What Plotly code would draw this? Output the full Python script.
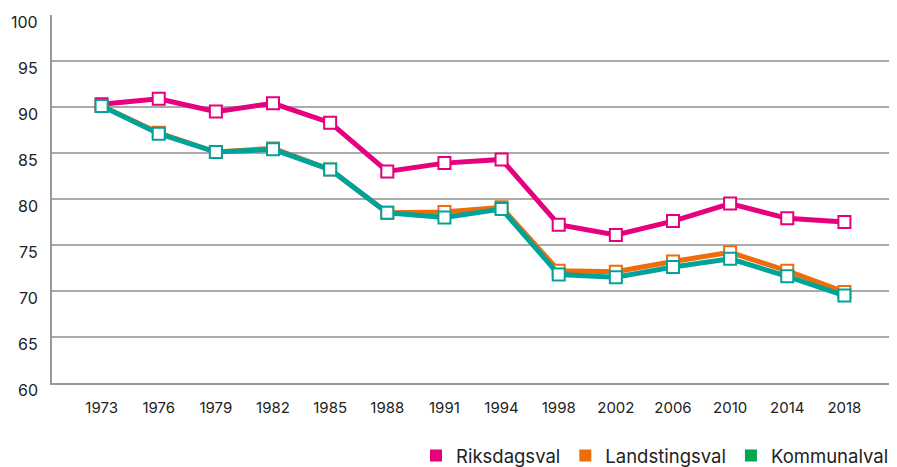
import plotly.graph_objects as go

years = ["1973", "1976", "1979", "1982", "1985", "1988", "1991", "1994",
         "1998", "2002", "2006", "2010", "2014", "2018"]
riksdagsval = [90.3, 90.9, 89.5, 90.4, 88.3, 83.0, 83.9, 84.3, 77.2, 76.1, 77.6, 79.5, 77.9, 77.5]
landstingsval = [90.1, 87.2, 85.1, 85.5, 83.2, 78.5, 78.6, 79.1, 72.2, 72.1, 73.2, 74.2, 72.2, 69.9]
kommunalval = [90.1, 87.1, 85.1, 85.4, 83.2, 78.5, 78.0, 78.9, 71.8, 71.5, 72.6, 73.5, 71.6, 69.5]
y_ticks = [60, 65, 70, 75, 80, 85, 90, 95, 100]

series = [
    ("Riksdagsval", riksdagsval, "#E6007E", "#E6007E"),
    ("Landstingsval", landstingsval, "#EE6C0A", "#EE6C0A"),
    ("Kommunalval", kommunalval, "#00A39A", "#00A650"),
]

fig = go.Figure()
for name, vals, lc, legc in series:
    fig.add_trace(go.Scatter(
        x=years, y=vals, mode="lines+markers", name=name, showlegend=False,
        line=dict(color=lc, width=5),
        marker=dict(symbol="square", size=12, color="white",
                    line=dict(color=lc, width=2)),
    ))
for name, vals, lc, legc in series:
    fig.add_trace(go.Scatter(
        x=[None], y=[None], mode="markers", name=name, showlegend=True,
        marker=dict(symbol="square", size=12, color=legc),
    ))

# y tick labels sit slightly below their gridlines in the reference
for t in y_ticks:
    fig.add_annotation(x=0, xref="paper", y=t, yref="y", text=str(t),
                       showarrow=False, xanchor="right", yanchor="middle",
                       xshift=-12, yshift=-7, font=dict(size=16, color="#222"))

fig.update_layout(
    width=889, height=459,
    margin=dict(l=44, r=3, t=7, b=84, autoexpand=False),
    plot_bgcolor="white", paper_bgcolor="white",
    font=dict(family="Inter, Noto Sans, sans-serif", size=15, color="#222"),
    legend=dict(orientation="h", x=1.0, xanchor="right", y=-0.198, yanchor="middle",
                font=dict(size=18.5, color="#222"), traceorder="normal"),
    xaxis=dict(type="category", showgrid=False, showline=True, automargin=False,
               linecolor="#999", linewidth=2, ticks="", tickfont=dict(size=15),
               ticklabelstandoff=10),
    yaxis=dict(range=[60, 100], tickvals=y_ticks, showgrid=True, automargin=False,
               gridcolor="#aaa", gridwidth=1.5, showline=True, linecolor="#999",
               linewidth=2, zeroline=False, ticks="", showticklabels=False),
)

fig.write_html("out.html")
